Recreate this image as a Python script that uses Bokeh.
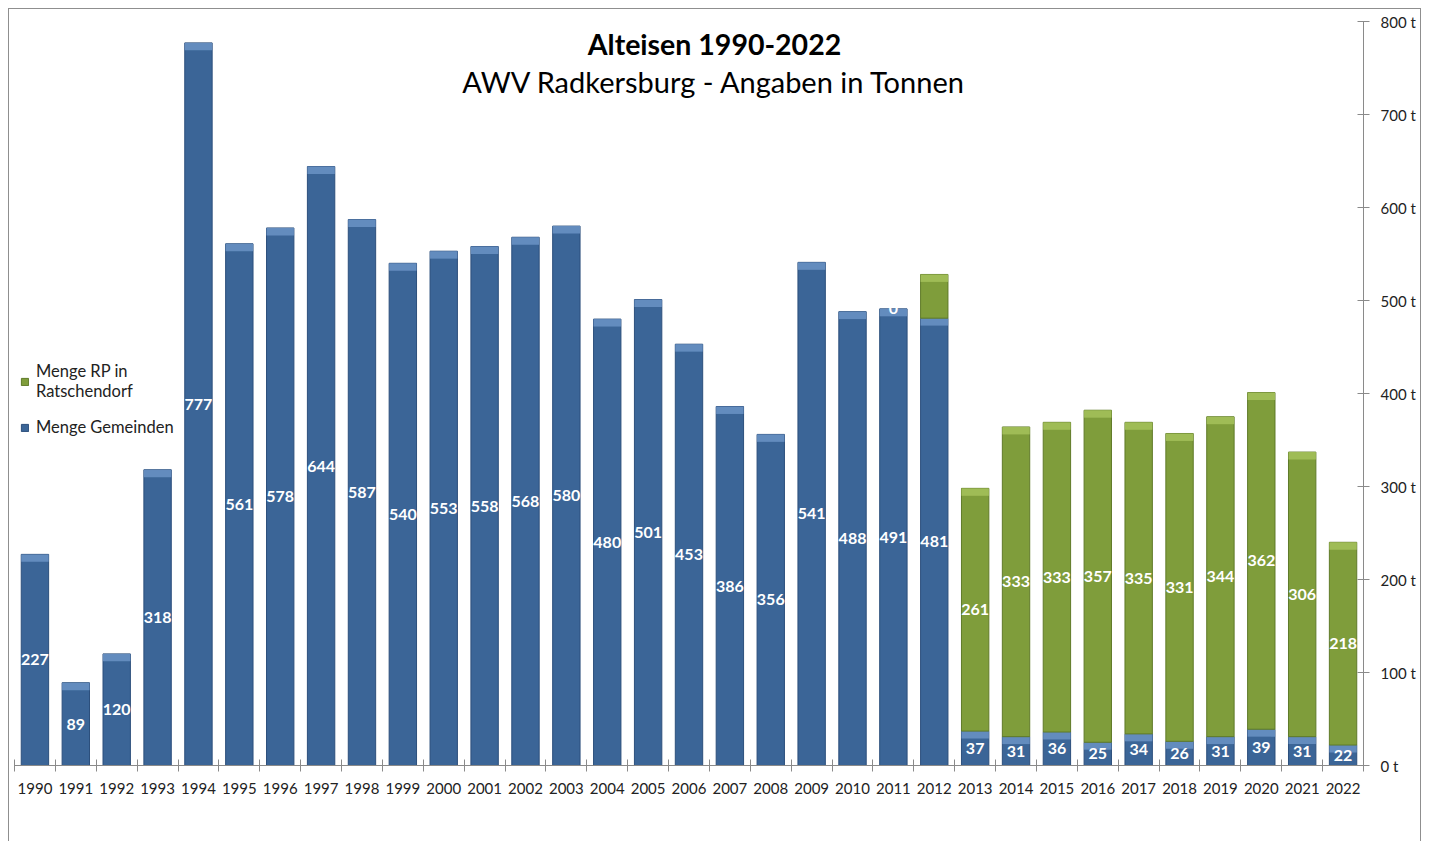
from bokeh.plotting import figure
from bokeh.models import (ColumnDataSource, Range1d, FixedTicker, PrintfTickFormatter,
                          Label, Legend, LegendItem)
from bokeh.core.properties import value
from bokeh.embed import file_html
from bokeh.resources import INLINE

years = ["1990", "1991", "1992", "1993", "1994", "1995", "1996", "1997", "1998", "1999",
         "2000", "2001", "2002", "2003", "2004", "2005", "2006", "2007", "2008", "2009",
         "2010", "2011", "2012", "2013", "2014", "2015", "2016", "2017", "2018", "2019",
         "2020", "2021", "2022"]
gemeinden = [227, 89, 120, 318, 777, 561, 578, 644, 587, 540, 553, 558, 568, 580, 480,
             501, 453, 386, 356, 541, 488, 491, 481, 37, 31, 36, 25, 34, 26, 31, 39, 31, 22]
rp = [0, 0, 0, 0, 0, 0, 0, 0, 0, 0, 0, 0, 0, 0, 0, 0, 0, 0, 0, 0, 0,
      0, 47, 261, 333, 333, 357, 335, 331, 344, 362, 306, 218]
rp_labels = ["", "", "", "", "", "", "", "", "", "", "", "", "", "", "", "", "", "", "", "", "",
             "0", "", "261", "333", "333", "357", "335", "331", "344", "362", "306", "218"]
y_ticks = [0, 100, 200, 300, 400, 500, 600, 700, 800]

FONT = "Lato"
BLUE = "#3b6597"
BLUE_CAP = "#6890c2"
BLUE_EDGE = "#2c4f7c"
GREEN = "#7f9d3b"
GREEN_CAP = "#a3c05a"
GREEN_EDGE = "#5f7a28"
BAR_W = 0.67
CAP = 8

n = len(years)
xc = [i + 0.5 for i in range(n)]
tot = [g + r for g, r in zip(gemeinden, rp)]

p = figure(width=1413, height=833, output_backend="svg", toolbar_location=None,
           x_range=Range1d(0, n), y_range=Range1d(0, 800), y_axis_location="right",
           min_border_left=5, min_border_right=59, min_border_top=12, min_border_bottom=77)
p.outline_line_color = None
p.grid.visible = False
p.background_fill_color = "white"
p.border_fill_color = "white"
p.styles = {"border-left": "1px solid #8f8f8f", "border-top": "1px solid #8f8f8f",
            "border-right": "1px solid #8f8f8f", "margin-left": "8px", "margin-top": "8px"}

blue_src = ColumnDataSource(dict(x=xc, top=gemeinden, cap=[v - CAP for v in gemeinden],
                                 lab=[str(v) for v in gemeinden],
                                 ly=[v / 2 for v in gemeinden]))
gi = [i for i in range(n) if rp[i] > 0]
green_src = ColumnDataSource(dict(x=[xc[i] for i in gi], bottom=[gemeinden[i] for i in gi],
                                  top=[tot[i] for i in gi], cap=[tot[i] - CAP for i in gi]))
glab_i = [i for i in range(n) if rp_labels[i] != ""]
glab_src = ColumnDataSource(dict(x=[xc[i] for i in glab_i],
                                 y=[gemeinden[i] + rp[i] / 2 for i in glab_i],
                                 lab=[rp_labels[i] for i in glab_i]))

rb = p.vbar(x="x", bottom=0, top="top", width=BAR_W, source=blue_src,
            fill_color=BLUE, line_color=BLUE_EDGE, line_width=1)
p.vbar(x="x", bottom="cap", top="top", width=BAR_W, source=blue_src,
       fill_color=BLUE_CAP, line_color=None, fill_alpha=0.9)
rg = p.vbar(x="x", bottom="bottom", top="top", width=BAR_W, source=green_src,
            fill_color=GREEN, line_color=GREEN_EDGE, line_width=1)
p.vbar(x="x", bottom="cap", top="top", width=BAR_W, source=green_src,
       fill_color=GREEN_CAP, line_color=None, fill_alpha=0.9)

p.text(x="x", y="ly", text="lab", source=blue_src, text_color="white",
       text_font=value(FONT), text_font_style="bold", text_font_size="16px",
       text_align="center", text_baseline="middle")
p.text(x="x", y="y", text="lab", source=glab_src, text_color="white",
       text_font=value(FONT), text_font_style="bold", text_font_size="16px",
       text_align="center", text_baseline="middle")

xa = p.xaxis[0]
xa.ticker = FixedTicker(ticks=xc, minor_ticks=list(range(n + 1)))
xa.major_label_overrides = {xc[i]: years[i] for i in range(n)}
xa.major_tick_line_color = None
xa.major_tick_in = 0
xa.major_tick_out = 0
xa.minor_tick_line_color = "#8a8a8a"
xa.minor_tick_in = 6
xa.minor_tick_out = 6
xa.axis_line_color = "#8a8a8a"
xa.major_label_standoff = 11
xa.major_label_text_font = FONT
xa.major_label_text_font_size = "15px"
xa.major_label_text_color = "#222222"

ya = p.yaxis[0]
ya.ticker = FixedTicker(ticks=y_ticks)
ya.formatter = PrintfTickFormatter(format="%d t")
ya.major_tick_in = 6
ya.major_tick_out = 6
ya.minor_tick_line_color = None
ya.major_tick_line_color = "#8a8a8a"
ya.axis_line_color = "#8a8a8a"
ya.major_label_standoff = 11
ya.major_label_text_font = FONT
ya.major_label_text_font_size = "15px"
ya.major_label_text_color = "#222222"

p.add_layout(Label(x=700, y=722, x_units="screen", y_units="screen",
                   text="Alteisen 1990-2022", text_font=FONT, text_font_style="bold",
                   text_font_size="28.5px", text_align="center", text_baseline="middle",
                   text_color="black"))
p.add_layout(Label(x=700, y=684, x_units="screen", y_units="screen",
                   text="AWV Radkersburg - Angaben in Tonnen", text_font=FONT,
                   text_font_size="29px", text_align="center", text_baseline="middle",
                   text_color="black"))

legend = Legend(items=[LegendItem(label="Menge RP in\nRatschendorf", renderers=[rg]),
                       LegendItem(label="Menge Gemeinden", renderers=[rb])],
                location=(6, 328), border_line_color=None, background_fill_alpha=0,
                glyph_width=9, glyph_height=9, label_text_font=FONT,
                label_text_font_size="16.5px", label_text_color="#222222",
                spacing=16, padding=4, margin=0, label_standoff=7)
p.add_layout(legend, "center")

open("out.html", "w").write(file_html(p, INLINE))
